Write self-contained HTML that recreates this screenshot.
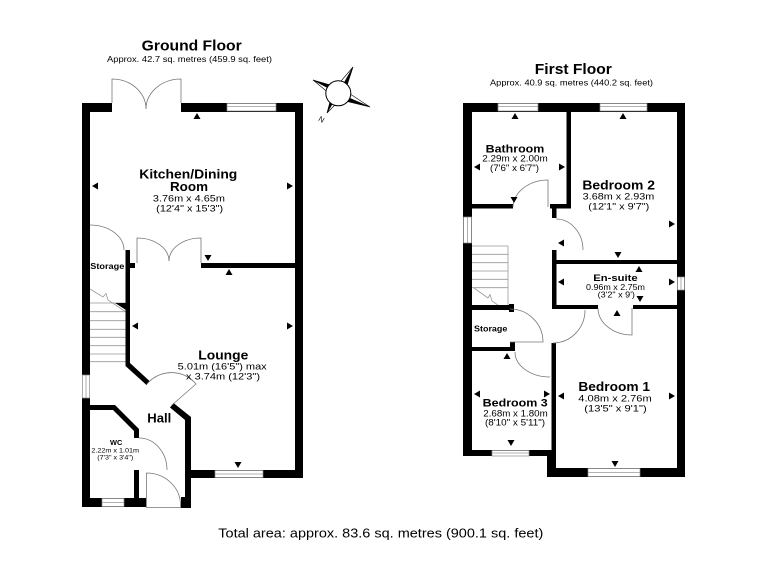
<!DOCTYPE html>
<html><head><meta charset="utf-8"><style>
html,body{margin:0;padding:0;background:#fff;}
svg{display:block;}
text{font-family:"Liberation Sans",Arial,sans-serif;fill:#000;}
.b{font-weight:bold;}
.w{fill:#000;}
.win{fill:#fff;stroke:#8a8a8a;stroke-width:0.7;}
.d{fill:none;stroke:#777;stroke-width:0.8;}
.s{stroke:#999;stroke-width:0.8;fill:none;}
</style></head><body>
<svg width="768" height="576" viewBox="0 0 768 576" xmlns="http://www.w3.org/2000/svg">
<rect width="768" height="576" fill="#fff"/>

<!-- Titles -->
<text x="191.7" y="50.7" class="b" font-size="15" text-anchor="middle" textLength="100" lengthAdjust="spacingAndGlyphs">Ground Floor</text>
<text x="189.5" y="62" font-size="8.5" text-anchor="middle" textLength="165" lengthAdjust="spacingAndGlyphs">Approx. 42.7 sq. metres (459.9 sq. feet)</text>
<text x="573.3" y="74" class="b" font-size="15" text-anchor="middle" textLength="77" lengthAdjust="spacingAndGlyphs">First Floor</text>
<text x="571.5" y="85.7" font-size="8.5" text-anchor="middle" textLength="163" lengthAdjust="spacingAndGlyphs">Approx. 40.9 sq. metres (440.2 sq. feet)</text>

<!-- ============ GROUND FLOOR ============ -->
<!-- stairs -->
<g class="s">
<line x1="90" y1="303" x2="125.5" y2="303"/>
<line x1="90" y1="311.7" x2="125.5" y2="311.7"/>
<line x1="90" y1="320.7" x2="125.5" y2="320.7"/>
<line x1="90" y1="329.3" x2="125.5" y2="329.3"/>
<line x1="90" y1="337.3" x2="125.5" y2="337.3"/>
<line x1="90" y1="345.7" x2="125.5" y2="345.7"/>
<line x1="90" y1="354" x2="125.5" y2="354"/>
<line x1="90" y1="361.7" x2="125.5" y2="361.7"/>
<polyline points="90,289 103,297 106,293.5 108,300 126,312"/>
</g>
<!-- walls -->
<rect class="w" x="82" y="103" width="30" height="9"/>
<rect class="w" x="181" y="103" width="122" height="9"/>
<rect class="w" x="82" y="103" width="8" height="272"/>
<rect class="w" x="82" y="398" width="8" height="109"/>
<rect class="w" x="295" y="103" width="8" height="375"/>
<rect class="w" x="201" y="263" width="94" height="5"/>
<rect class="w" x="125.5" y="250" width="4.5" height="115"/>
<rect class="w" x="130" y="263" width="5" height="5"/>
<polygon class="w" points="125.5,363 130,363 149.5,381 146.5,385 125.5,366"/>
<polygon class="w" points="115,303 126,303 126,310"/>
<polygon class="w" points="170,407.5 173.5,403 191,417 191,508 185,508 185,420"/>
<rect class="w" x="181" y="497" width="10" height="11"/>
<rect class="w" x="185" y="470" width="118" height="8"/>
<polygon class="w" points="90,405 115,405 139,429 139,438 134,438 134,431 113,410 90,410"/>
<rect class="w" x="134" y="470" width="5" height="37"/>
<rect class="w" x="82" y="498" width="64" height="9"/>
<!-- windows -->
<rect class="win" x="227" y="103.5" width="49" height="7.5"/><line class="s" x1="227" y1="106.5" x2="276" y2="106.5"/>
<rect class="win" x="82.5" y="375" width="7" height="23"/><line class="s" x1="86" y1="375" x2="86" y2="398"/>
<rect class="win" x="215" y="470.5" width="48" height="7"/><line class="s" x1="215" y1="474" x2="263" y2="474"/>
<rect class="win" x="102" y="498.5" width="22" height="8"/><line class="s" x1="102" y1="502.5" x2="124" y2="502.5"/>
<!-- doors -->
<path class="d" d="M112,103 L112,79 A34,30 0 0,1 146,109"/>
<path class="d" d="M181,103 L181,79 A35,30 0 0,0 146,109"/>
<path class="d" d="M137,263 L137,238 A32,23 0 0,1 169,261"/>
<path class="d" d="M201,263 L201,238 A32,23 0 0,0 169,261"/>
<path class="d" d="M90,225 A34,25 0 0,1 124,250"/>
<path class="d" d="M147,384 A32,32 0 0,1 196,384 L172,405"/>
<path class="d" d="M139,438 A28,32 0 0,1 167,470"/>
<path class="d" d="M146.5,507.5 L146.5,473 A34,32 0 0,1 180.5,505 L180.5,507.5 Z"/>
<!-- arrows -->
<g class="w">
<polygon points="197,113 193.5,119 200.5,119"/>
<polygon points="92,186 98,182.5 98,189.5"/>
<polygon points="293,186 287,182.5 287,189.5"/>
<polygon points="208,261 204.5,255 211.5,255"/>
<polygon points="229,269 225.5,275 232.5,275"/>
<polygon points="132,326 138,322.5 138,329.5"/>
<polygon points="293,326 287,322.5 287,329.5"/>
<polygon points="238,468 234.5,462 241.5,462"/>
</g>
<!-- labels -->
<text x="188.3" y="178.3" class="b" font-size="12.5" text-anchor="middle" textLength="98" lengthAdjust="spacingAndGlyphs">Kitchen/Dining</text>
<text x="189" y="191" class="b" font-size="12.5" text-anchor="middle" textLength="38" lengthAdjust="spacingAndGlyphs">Room</text>
<text x="188.9" y="201.7" font-size="9.5" text-anchor="middle" textLength="72" lengthAdjust="spacingAndGlyphs">3.76m x 4.65m</text>
<text x="189.7" y="211.7" font-size="9.5" text-anchor="middle" textLength="67" lengthAdjust="spacingAndGlyphs">(12'4" x 15'3")</text>
<text x="107.3" y="269" class="b" font-size="8" text-anchor="middle" textLength="34" lengthAdjust="spacingAndGlyphs">Storage</text>
<text x="223.3" y="359.3" class="b" font-size="12.5" text-anchor="middle" textLength="50" lengthAdjust="spacingAndGlyphs">Lounge</text>
<text x="222.2" y="369.3" font-size="9.5" text-anchor="middle" textLength="89" lengthAdjust="spacingAndGlyphs">5.01m (16'5") max</text>
<text x="223" y="379.3" font-size="9.5" text-anchor="middle" textLength="74" lengthAdjust="spacingAndGlyphs">x 3.74m (12'3")</text>
<text x="159.3" y="422.7" class="b" font-size="12.5" text-anchor="middle" textLength="24" lengthAdjust="spacingAndGlyphs">Hall</text>
<text x="116.2" y="445" class="b" font-size="7.5" text-anchor="middle" textLength="12.3" lengthAdjust="spacingAndGlyphs">WC</text>
<text x="115.2" y="452.7" font-size="6.5" text-anchor="middle" textLength="47.7" lengthAdjust="spacingAndGlyphs">2.22m x 1.01m</text>
<text x="115.3" y="459.3" font-size="6.5" text-anchor="middle" textLength="36" lengthAdjust="spacingAndGlyphs">(7'3" x 3'4")</text>

<!-- Compass -->
<g stroke="#000" stroke-width="0.6">
<polygon points="353,67 343.5,96.3 338.3,93.3" fill="#000"/>
<polygon points="353,67 333.1,90.3 338.3,93.3" fill="#fff"/>
<polygon points="370,107 335.9,98.8 338.3,93.3" fill="#000"/>
<polygon points="370,107 340.7,87.8 338.3,93.3" fill="#fff"/>
<polygon points="327,113 333.1,90.3 338.3,93.3" fill="#000"/>
<polygon points="327,113 343.5,96.3 338.3,93.3" fill="#fff"/>
<polygon points="313,80 341.1,88 338.3,93.3" fill="#000"/>
<polygon points="313,80 335.5,98.6 338.3,93.3" fill="#fff"/>
<circle cx="338.3" cy="93.3" r="12.5" fill="#fff" stroke-width="1"/>
</g>
<text x="321.7" y="122" font-size="7.5" text-anchor="middle" transform="rotate(30 321.7 119)">N</text>

<!-- ============ FIRST FLOOR ============ -->
<g class="s">
<line x1="472" y1="246" x2="508" y2="246"/>
<line x1="472" y1="254.3" x2="508" y2="254.3"/>
<line x1="472" y1="262.7" x2="508" y2="262.7"/>
<line x1="472" y1="271" x2="508" y2="271"/>
<line x1="472" y1="279.3" x2="508" y2="279.3"/>
<line x1="472" y1="287.7" x2="508" y2="287.7"/>
<line x1="508" y1="246" x2="508" y2="310"/>
<polyline points="474,288 488,298 490,294.5 492,301 505,310"/>
</g>
<rect class="w" x="463" y="103" width="222" height="9"/>
<rect class="w" x="463" y="103" width="9" height="353"/>
<rect class="w" x="677" y="103" width="8" height="374"/>
<rect class="w" x="566.5" y="103" width="4.5" height="105"/>
<rect class="w" x="472" y="204" width="41" height="4.5"/>
<rect class="w" x="550" y="204" width="21" height="4.5"/>
<rect class="w" x="552" y="204" width="4.5" height="14"/>
<rect class="w" x="552" y="250" width="4.5" height="59"/>
<rect class="w" x="552" y="260" width="125" height="4"/>
<rect class="w" x="552" y="305" width="46" height="4"/>
<rect class="w" x="633" y="305" width="44" height="4"/>
<rect class="w" x="551.5" y="343" width="4.5" height="110"/>
<rect class="w" x="547" y="450" width="9" height="27"/>
<rect class="w" x="547" y="468" width="138" height="9"/>
<rect class="w" x="463" y="450" width="84" height="6"/>
<rect class="w" x="472" y="305" width="41" height="5"/>
<rect class="w" x="509" y="304" width="5" height="8"/>
<rect class="w" x="472" y="347" width="43" height="4"/>
<rect class="w" x="510" y="342" width="5" height="9"/>
<!-- windows -->
<rect class="win" x="498" y="103.5" width="40" height="7.5"/><line class="s" x1="498" y1="106.5" x2="538" y2="106.5"/>
<rect class="win" x="600" y="103.5" width="47" height="7.5"/><line class="s" x1="600" y1="106.5" x2="647" y2="106.5"/>
<rect class="win" x="463.5" y="217" width="8" height="26"/><line class="s" x1="467.5" y1="217" x2="467.5" y2="243"/>
<rect class="win" x="677.5" y="277" width="7" height="13"/><line class="s" x1="681" y1="277" x2="681" y2="290"/>
<rect class="win" x="492" y="450.5" width="37" height="5.5"/><line class="s" x1="492" y1="453" x2="529" y2="453"/>
<rect class="win" x="588" y="468.5" width="52" height="8"/><line class="s" x1="588" y1="472.5" x2="640" y2="472.5"/>
<!-- doors -->
<path class="d" d="M513,207 A35,28 0 0,1 548,180 L548,207"/>
<path class="d" d="M556,219 A27,31 0 0,1 583,250"/>
<path class="d" d="M598,308 A34,27 0 0,0 632,335 L632,308"/>
<path class="d" d="M585,310 A32,33 0 0,1 553,343"/>
<path class="d" d="M510,309 A33,33 0 0,1 543,342 L510,342"/>
<path class="d" d="M515,352 A35,25 0 0,0 550,377"/>
<!-- arrows -->
<g class="w">
<polygon points="515,113 511.5,119 518.5,119"/>
<polygon points="474,167 480,163.5 480,170.5"/>
<polygon points="565,167 559,163.5 559,170.5"/>
<polygon points="514,203 510.5,197 517.5,197"/>
<polygon points="623,113 619.5,119 626.5,119"/>
<polygon points="675,224 669,220.5 669,227.5"/>
<polygon points="558,243 564,239.5 564,246.5"/>
<polygon points="618,258 614.5,252 621.5,252"/>
<polygon points="639,266 635.5,272 642.5,272"/>
<polygon points="558,282 564,278.5 564,285.5"/>
<polygon points="675,282 669,278.5 669,285.5"/>
<polygon points="640,302 636.5,296 643.5,296"/>
<polygon points="617,310 613.5,316 620.5,316"/>
<polygon points="507,353 503.5,359 510.5,359"/>
<polygon points="474,394 480,390.5 480,397.5"/>
<polygon points="550,394 544,390.5 544,397.5"/>
<polygon points="511,446 507.5,440 514.5,440"/>
<polygon points="558,396 564,392.5 564,399.5"/>
<polygon points="675,396 669,392.5 669,399.5"/>
<polygon points="615,467 611.5,461 618.5,461"/>
</g>
<!-- labels -->
<text x="515" y="152.7" class="b" font-size="11" text-anchor="middle" textLength="58.6" lengthAdjust="spacingAndGlyphs">Bathroom</text>
<text x="515" y="161.7" font-size="9" text-anchor="middle" textLength="65.4" lengthAdjust="spacingAndGlyphs">2.29m x 2.00m</text>
<text x="514.5" y="171" font-size="9" text-anchor="middle" textLength="49" lengthAdjust="spacingAndGlyphs">(7'6" x 6'7")</text>
<text x="618.7" y="189.3" class="b" font-size="12.5" text-anchor="middle" textLength="72.7" lengthAdjust="spacingAndGlyphs">Bedroom 2</text>
<text x="618.5" y="199.3" font-size="9.5" text-anchor="middle" textLength="71.6" lengthAdjust="spacingAndGlyphs">3.68m x 2.93m</text>
<text x="618.8" y="209.3" font-size="9.5" text-anchor="middle" textLength="61" lengthAdjust="spacingAndGlyphs">(12'1" x 9'7")</text>
<text x="615.5" y="281" class="b" font-size="9.5" text-anchor="middle" textLength="44.4" lengthAdjust="spacingAndGlyphs">En-suite</text>
<text x="615.5" y="290" font-size="8" text-anchor="middle" textLength="59" lengthAdjust="spacingAndGlyphs">0.96m x 2.75m</text>
<text x="616.3" y="297.3" font-size="8" text-anchor="middle" textLength="37.3" lengthAdjust="spacingAndGlyphs">(3'2" x 9')</text>
<text x="490.7" y="331.7" class="b" font-size="8" text-anchor="middle" textLength="33.3" lengthAdjust="spacingAndGlyphs">Storage</text>
<text x="515.2" y="406.7" class="b" font-size="11" text-anchor="middle" textLength="65" lengthAdjust="spacingAndGlyphs">Bedroom 3</text>
<text x="515.5" y="416.7" font-size="9" text-anchor="middle" textLength="64.4" lengthAdjust="spacingAndGlyphs">2.68m x 1.80m</text>
<text x="515" y="425.7" font-size="9" text-anchor="middle" textLength="60" lengthAdjust="spacingAndGlyphs">(8'10" x 5'11")</text>
<text x="614.2" y="391" class="b" font-size="12.5" text-anchor="middle" textLength="71.7" lengthAdjust="spacingAndGlyphs">Bedroom 1</text>
<text x="615" y="401.7" font-size="9.5" text-anchor="middle" textLength="73.4" lengthAdjust="spacingAndGlyphs">4.08m x 2.76m</text>
<text x="615.5" y="411.7" font-size="9.5" text-anchor="middle" textLength="62.4" lengthAdjust="spacingAndGlyphs">(13'5" x 9'1")</text>

<!-- Footer -->
<text x="380.8" y="537.7" font-size="12.5" text-anchor="middle" textLength="325" lengthAdjust="spacingAndGlyphs">Total area: approx. 83.6 sq. metres (900.1 sq. feet)</text>
</svg>
</body></html>
